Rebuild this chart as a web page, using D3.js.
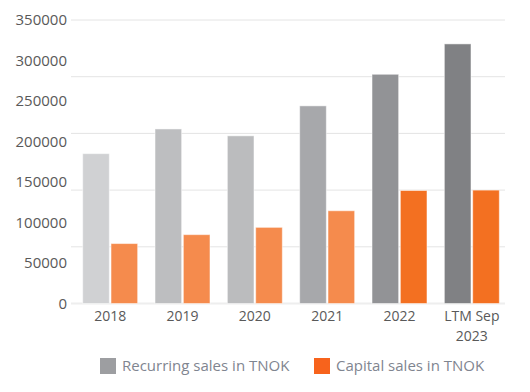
<!DOCTYPE html>
<html lang="en">
<head>
    <meta charset="UTF-8">
    <title>Sales in TNOK</title>
    <script src="https://d3js.org/d3.v7.min.js"></script>
    <style>
        body { margin: 0; background: #fff; }
        text { font-family: "Open Sans", sans-serif; }
    </style>
</head>
<body>
    <div id="chart-container"></div>

    <script>
        // Values (TNOK)
        const categories = ["2018", "2019", "2020", "2021", "2022", "LTM Sep 2023"];
        const recurring = [185000, 215500, 207000, 244000, 283000, 320500];
        const capital = [74000, 85000, 94000, 114500, 139500, 140000];
        const seriesNames = ["Recurring sales in TNOK", "Capital sales in TNOK"];
        const yTicks = [0, 50000, 100000, 150000, 200000, 250000, 300000, 350000];
        const gridValues = [0, 70000, 140000, 210000, 280000, 350000];

        // per-year shades, as in the picture
        const recurringColors = ["#d0d1d3", "#bdbec0", "#bbbcbe", "#a7a8ab", "#929396", "#808184"];
        const capitalColors = ["#f58b4d", "#f58b4d", "#f58b4d", "#f58b4d", "#f37021", "#f37021"];

        const width = 530, height = 392;

        const svg = d3.select("#chart-container")
            .append("svg")
            .attr("width", width)
            .attr("height", height);

        const x0 = d3.scaleBand()
            .domain(categories)
            .range([74, 508])
            .paddingInner(0.24)
            .paddingOuter(0.12);

        const x1 = d3.scaleBand()
            .domain(seriesNames)
            .range([0, x0.bandwidth()])
            .paddingInner(0.06);

        const y = d3.scaleLinear()
            .domain([0, 350000])
            .range([303.5, 20]);

        // gridlines
        svg.append("g")
            .selectAll("line")
            .data(gridValues)
            .enter().append("line")
            .attr("x1", 71)
            .attr("x2", 505)
            .attr("y1", d => y(d))
            .attr("y2", d => y(d))
            .attr("stroke", d => d === 0 ? "#eeeeee" : "#e4e4e4")
            .attr("stroke-width", d => d === 0 ? 2 : 1);

        // y axis labels
        const yAxis = d3.axisLeft(y)
            .tickValues(yTicks)
            .tickFormat(d3.format("d"))
            .tickSize(0)
            .tickPadding(0);

        svg.append("g")
            .attr("transform", "translate(67,0)")
            .call(yAxis)
            .call(g => g.select(".domain").remove())
            .selectAll("text")
            .attr("fill", "#595959")
            .style("font-size", "15px");

        // bars
        const groups = svg.append("g")
            .selectAll("g")
            .data(categories)
            .enter().append("g")
            .attr("transform", d => `translate(${x0(d)},0)`);

        groups.append("rect")
            .attr("x", x1(seriesNames[0]))
            .attr("width", x1.bandwidth())
            .attr("y", (d, i) => y(recurring[i]))
            .attr("height", (d, i) => y(0) - y(recurring[i]))
            .attr("fill", (d, i) => recurringColors[i])
            .attr("stroke", "#ffffff")
            .attr("stroke-opacity", 0.5)
            .attr("stroke-width", 1);

        groups.append("rect")
            .attr("x", x1(seriesNames[1]))
            .attr("width", x1.bandwidth())
            .attr("y", (d, i) => y(capital[i]))
            .attr("height", (d, i) => y(0) - y(capital[i]))
            .attr("fill", (d, i) => capitalColors[i])
            .attr("stroke", "#ffffff")
            .attr("stroke-opacity", 0.5)
            .attr("stroke-width", 1);

        // x axis labels (two lines for the last one)
        const xLabels = svg.append("g")
            .selectAll("text")
            .data(categories)
            .enter().append("text")
            .attr("x", d => x0(d) + x0.bandwidth() / 2)
            .attr("y", 321)
            .attr("text-anchor", "middle")
            .attr("fill", "#595959")
            .style("font-size", "14px");

        xLabels.each(function (d) {
            const words = d.startsWith("LTM") ? ["LTM Sep", "2023"] : [d];
            const t = d3.select(this);
            words.forEach((w, i) => {
                t.append("tspan")
                    .attr("x", t.attr("x"))
                    .attr("dy", i === 0 ? 0 : 20)
                    .text(w);
            });
        });

        // legend
        const legend = [
            { name: seriesNames[0], color: "#9d9ea1", x: 100 },
            { name: seriesNames[1], color: "#f7631c", x: 314 }
        ];

        const lg = svg.append("g")
            .selectAll("g")
            .data(legend)
            .enter().append("g")
            .attr("transform", d => `translate(${d.x},358)`);

        lg.append("rect")
            .attr("width", 16)
            .attr("height", 16)
            .attr("fill", d => d.color);

        lg.append("text")
            .attr("x", 22)
            .attr("y", 13)
            .attr("fill", "#7f8590")
            .style("font-size", "15px")
            .text(d => d.name);
    </script>
</body>
</html>
